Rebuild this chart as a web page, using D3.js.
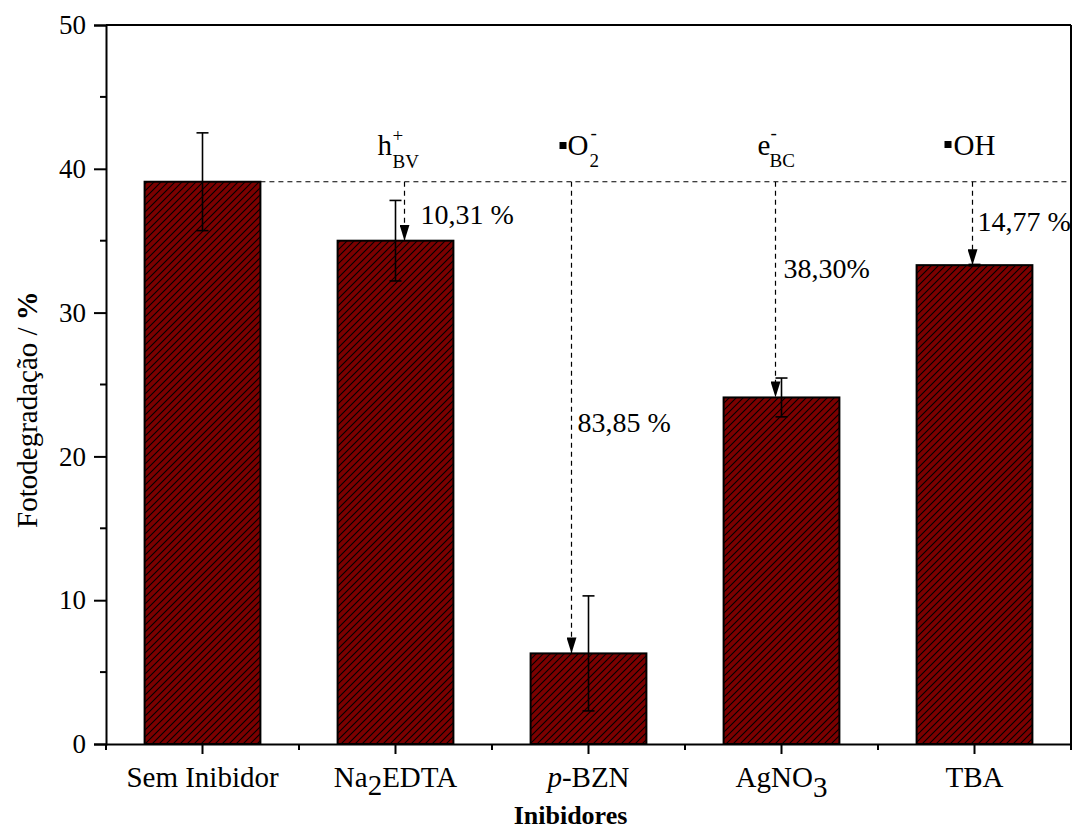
<!DOCTYPE html>
<html>
<head>
<meta charset="utf-8">
<script src="https://cdn.jsdelivr.net/npm/d3@7"></script>
<style>
  html, body { margin: 0; padding: 0; background: #fff; }
  svg text { font-family: "Liberation Serif", "Times New Roman", Times, serif; }
</style>
</head>
<body>
<svg id="chart" width="1073" height="832"></svg>
<script>
// Photodegradation with scavengers
const categories = ["Sem Inibidor", "Na2EDTA", "p-BZN", "AgNO3", "TBA"];
const values = [39.1, 35.0, 6.3, 24.1, 33.3];
const errors = [3.4, 2.8, 4.0, 1.35, 0.05];
const yTicks = [0, 10, 20, 30, 40, 50];
// reduction relative to the reference (no inhibitor), index into categories
const reductions = [
  { idx: 1, label: "10,31 %" },
  { idx: 2, label: "83,85 %" },
  { idx: 3, label: "38,30%" },
  { idx: 4, label: "14,77 %" }
];

const SERIF = "'Liberation Serif', 'Times New Roman', Times, serif";
const W = 1073, H = 832;
const margin = { top: 25, right: 2, bottom: 88, left: 106 };
const svg = d3.select("#chart");

const x = d3.scaleBand().domain(categories).range([margin.left, W - margin.right]).paddingInner(0.4).paddingOuter(0.2);
const xOuter = d3.scaleBand().domain(categories).range([margin.left, W - margin.right]);
const y = d3.scaleLinear().domain([0, 50]).range([H - margin.bottom, margin.top]);

// hatch pattern for the bars
const defs = svg.append("defs");
const pat = defs.append("pattern").attr("id", "hatch").attr("patternUnits", "userSpaceOnUse")
  .attr("width", 7).attr("height", 7);
pat.append("rect").attr("width", 7).attr("height", 7).attr("fill", "#7b0000");
pat.append("path").attr("d", "M-1,1 l2,-2 M0,7 l7,-7 M6,8 l2,-2").attr("stroke", "#000").attr("stroke-width", 1.1);
// arrowhead drawn along +x so that orient="auto" points it down the line
defs.append("marker").attr("id", "arrow").attr("viewBox", "0 0 16 10").attr("refX", 16).attr("refY", 5)
  .attr("markerWidth", 16).attr("markerHeight", 10).attr("markerUnits", "userSpaceOnUse").attr("orient", "auto")
  .append("path").attr("d", "M0,0 L16,5 L0,10 Z").attr("fill", "#000");

// bars
svg.selectAll("rect.bar").data(categories).enter().append("rect")
  .attr("class", "bar")
  .attr("x", d => x(d))
  .attr("y", (d, i) => y(values[i]))
  .attr("width", x.bandwidth())
  .attr("height", (d, i) => y(0) - y(values[i]))
  .attr("fill", "url(#hatch)")
  .attr("stroke", "#000").attr("stroke-width", 2);

// error bars
const cx = d => x(d) + x.bandwidth() / 2;
const eb = svg.append("g").attr("stroke", "#000").attr("stroke-width", 1.6);
categories.forEach((c, i) => {
  const top = y(values[i] + errors[i]), bot = y(values[i] - errors[i]);
  eb.append("line").attr("x1", cx(c)).attr("x2", cx(c)).attr("y1", top).attr("y2", bot);
  eb.append("line").attr("x1", cx(c) - 6).attr("x2", cx(c) + 6).attr("y1", top).attr("y2", top);
  eb.append("line").attr("x1", cx(c) - 6).attr("x2", cx(c) + 6).attr("y1", bot).attr("y2", bot);
});

// reference dashed line at the uninhibited level
const refY = y(values[0]);
svg.append("line").attr("x1", x(categories[0]) + x.bandwidth()).attr("x2", W - margin.right)
  .attr("y1", refY).attr("y2", refY)
  .attr("stroke", "#000").attr("stroke-width", 1.2).attr("stroke-dasharray", "5,4");

// dashed arrows and percentage labels
const arrowOffset = { 1: 9, 2: -17, 3: -6, 4: -2 };
const labelPos = { 1: [16, 224], 2: [6, 432], 3: [8, 278], 4: [5, 231] };
reductions.forEach(r => {
  const c = categories[r.idx];
  const ax = cx(c) + arrowOffset[r.idx];
  svg.append("line").attr("x1", ax).attr("x2", ax).attr("y1", refY).attr("y2", y(values[r.idx]))
    .attr("stroke", "#000").attr("stroke-width", 1.2).attr("stroke-dasharray", "5,4")
    .attr("marker-end", "url(#arrow)");
  svg.append("text").attr("x", ax + labelPos[r.idx][0]).attr("y", labelPos[r.idx][1])
    .attr("font-family", SERIF).attr("font-size", 28).text(r.label);
});

// species labels
const sp = svg.append("g").attr("font-size", 29).attr("font-family", SERIF).attr("fill", "#000");
function speciesLabel(c, dx, render) {
  const g = sp.append("g").attr("transform", `translate(${cx(c) + dx},155)`);
  render(g);
}
speciesLabel(categories[1], -18, g => {
  g.append("text").attr("x", 0).attr("y", 0).text("h");
  g.append("text").attr("x", 15).attr("y", -13).attr("font-size", 19).text("+");
  g.append("text").attr("x", 15).attr("y", 13).attr("font-size", 19).text("BV");
});
speciesLabel(categories[2], -29, g => {
  g.append("rect").attr("x", 0).attr("y", -13).attr("width", 7).attr("height", 7);
  g.append("text").attr("x", 8).attr("y", 0).text("O");
  g.append("text").attr("x", 31).attr("y", -16).attr("font-size", 19).text("-");
  g.append("text").attr("x", 30).attr("y", 12).attr("font-size", 19).text("2");
});
speciesLabel(categories[3], -24, g => {
  g.append("text").attr("x", 0).attr("y", 0).text("e");
  g.append("text").attr("x", 13).attr("y", -16).attr("font-size", 19).text("-");
  g.append("text").attr("x", 12).attr("y", 12).attr("font-size", 19).text("BC");
});
speciesLabel(categories[4], -30, g => {
  g.append("rect").attr("x", 0).attr("y", -14).attr("width", 7).attr("height", 7);
  g.append("text").attr("x", 9).attr("y", 0).text("OH");
});

// frame
svg.append("line").attr("x1", margin.left).attr("x2", W - margin.right).attr("y1", margin.top).attr("y2", margin.top)
  .attr("stroke", "#000").attr("stroke-width", 2);
svg.append("line").attr("x1", W - margin.right).attr("x2", W - margin.right).attr("y1", margin.top).attr("y2", H - margin.bottom)
  .attr("stroke", "#000").attr("stroke-width", 2);

// y axis
const yAxis = svg.append("g").attr("transform", `translate(${margin.left},0)`)
  .call(d3.axisLeft(y).tickValues(yTicks).tickSize(12).tickPadding(8).tickFormat(d3.format("d")));
yAxis.attr("font-family", SERIF);
yAxis.select(".domain").attr("stroke-width", 2);
yAxis.selectAll(".tick line").attr("stroke-width", 2);
yAxis.selectAll(".tick text").attr("font-size", 27).attr("font-family", SERIF).attr("fill", "#000");
svg.append("g").attr("stroke", "#000").attr("stroke-width", 2)
  .selectAll("line").data(d3.range(5, 50, 10)).enter().append("line")
  .attr("x1", margin.left - 6).attr("x2", margin.left).attr("y1", d => y(d)).attr("y2", d => y(d));

// x axis
const xAxis = svg.append("g").attr("transform", `translate(0,${y(0)})`)
  .call(d3.axisBottom(x).tickSize(10).tickSizeOuter(0).tickFormat(""));
xAxis.select(".domain").attr("stroke-width", 2);
xAxis.selectAll(".tick line").attr("stroke-width", 2);
const bounds = categories.map(c => xOuter(c)).concat([W - margin.right]);
svg.append("g").attr("stroke", "#000").attr("stroke-width", 2)
  .selectAll("line").data(bounds).enter().append("line")
  .attr("x1", d => d).attr("x2", d => d).attr("y1", y(0)).attr("y2", y(0) + 6);

// category labels with sub/italic formatting
const labelY = 787;
const catG = svg.append("g").attr("font-size", 29).attr("font-family", SERIF).attr("text-anchor", "middle");
categories.forEach(c => {
  const t = catG.append("text").attr("x", cx(c)).attr("y", labelY);
  if (c === "Na2EDTA") {
    t.append("tspan").text("Na");
    t.append("tspan").attr("dy", 8).text("2");
    t.append("tspan").attr("dy", -8).text("EDTA");
  } else if (c === "AgNO3") {
    t.append("tspan").text("AgNO");
    t.append("tspan").attr("dy", 10).text("3");
  } else if (c === "p-BZN") {
    t.append("tspan").attr("font-style", "italic").text("p");
    t.append("tspan").text("-BZN");
  } else {
    t.text(c);
  }
});

// axis titles
svg.append("text").attr("x", (margin.left + W - margin.right) / 2 - 18).attr("y", 824)
  .attr("font-family", SERIF).attr("text-anchor", "middle").attr("font-size", 26).attr("font-weight", "bold").text("Inibidores");
const yl = svg.append("text").attr("transform", `translate(37,${(margin.top + H - margin.bottom) / 2 + 25}) rotate(-90)`)
  .attr("font-family", SERIF).attr("text-anchor", "middle").attr("font-size", 29);
yl.append("tspan").text("Fotodegradação / ");
yl.append("tspan").attr("font-weight", "bold").text("%");
</script>
</body>
</html>
